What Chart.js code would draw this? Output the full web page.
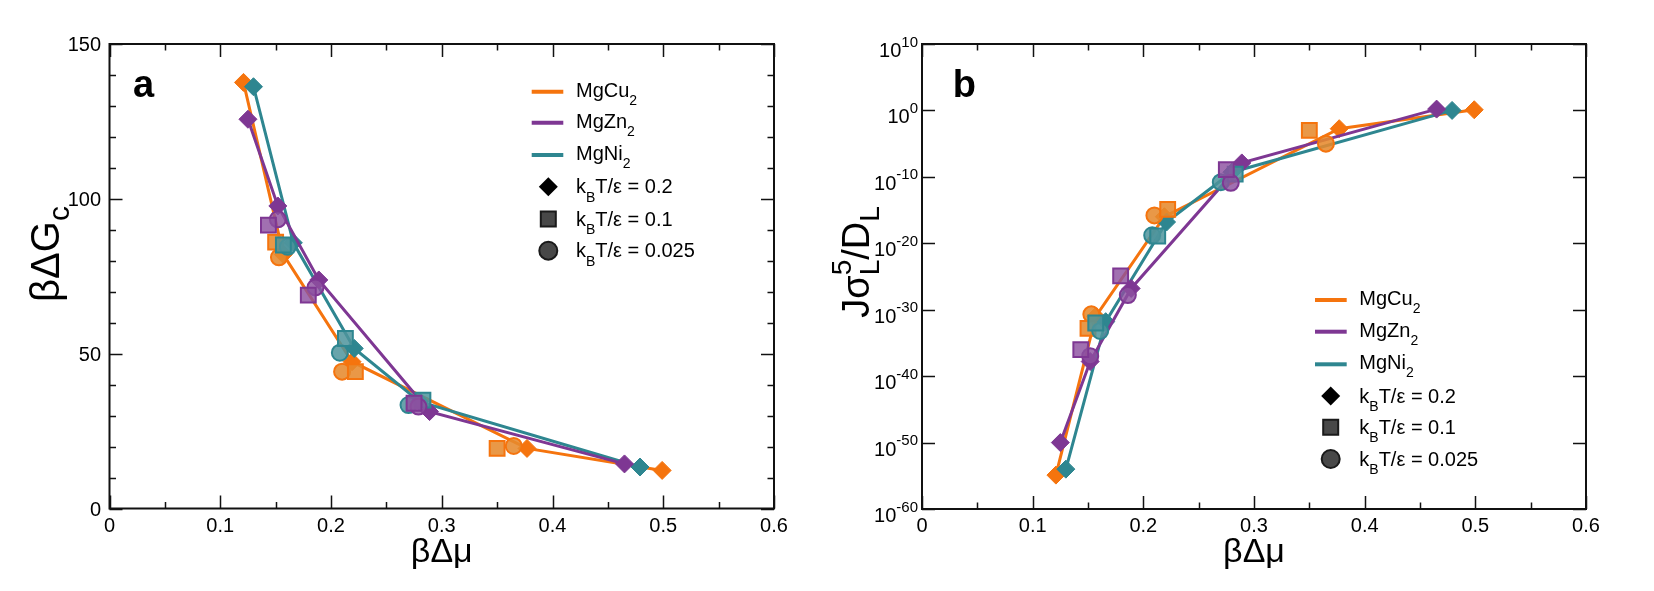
<!DOCTYPE html>
<html>
<head>
<meta charset="utf-8">
<script src="https://cdn.jsdelivr.net/npm/chart.js@4.4.1/dist/chart.umd.min.js"></script>
<style>
  html, body { margin: 0; padding: 0; background: #fff; }
  #wrap { position: relative; width: 1654px; height: 591px; }
  .panel { position: absolute; top: 0; width: 827px; height: 591px; }
</style>
</head>
<body>
<div id="wrap">
  <div class="panel" style="left:0"><canvas id="chartA" width="827" height="591"></canvas></div>
  <div class="panel" style="left:827px"><canvas id="chartB" width="827" height="591"></canvas></div>
</div>
<script>
// βΔμ (x) for each material and temperature, shared by both panels
const muCu20 = [0.121, 0.157, 0.219, 0.377, 0.499];
const muCu10 = [0.150, 0.222, 0.350];
const muCu025 = [0.153, 0.210, 0.365];
const muZn20 = [0.125, 0.152, 0.189, 0.289, 0.465];
const muZn10 = [0.1435, 0.1795, 0.275];
const muZn025 = [0.152, 0.186, 0.279];
const muNi20 = [0.130, 0.166, 0.221, 0.280, 0.479];
const muNi10 = [0.157, 0.213, 0.283];
const muNi025 = [0.161, 0.208, 0.270];

// panel a: βΔG_c
const gCu20 = [137.6, 82.0, 47.4, 19.4, 12.3];
const gCu10 = [86.0, 44.2, 19.4];
const gCu025 = [81.1, 44.2, 20.2];
const gZn20 = [125.7, 97.7, 73.8, 31.3, 14.4];
const gZn10 = [91.5, 68.9, 34.0];
const gZn025 = [93.4, 71.4, 32.9];
const gNi20 = [136.2, 85.8, 51.7, 34.5, 13.4];
const gNi10 = [85.1, 54.9, 35.0];
const gNi025 = [84.5, 50.3, 33.4];

// panel b: exponent of Jσ_L^5/D_L (log10)
const jCu20 = [-54.9, -31.0, -16.0, -2.75, 0.1];
const jCu10 = [-32.8, -14.9, -3.0];
const jCu025 = [-30.7, -15.8, -5.0];
const jZn20 = [-50.0, -37.8, -26.8, -7.9, 0.2];
const jZn10 = [-36.0, -24.9, -8.9];
const jZn025 = [-37.0, -27.8, -10.9];
const jNi20 = [-54.0, -31.8, -16.8, -9.3, 0.0];
const jNi10 = [-32.0, -18.9, -9.6];
const jNi025 = [-33.2, -18.8, -10.8];

// axes
const xTicks = [0, 0.1, 0.2, 0.3, 0.4, 0.5, 0.6];
const xTickLabels = ['0', '0.1', '0.2', '0.3', '0.4', '0.5', '0.6'];
const xMinorTicks = [0.05, 0.15, 0.25, 0.35, 0.45, 0.55];
const gTicks = [0, 50, 100, 150];
const gMinorTicks = [10, 20, 30, 40, 60, 70, 80, 90, 110, 120, 130, 140];
const jTickExps = [10, 0, -10, -20, -30, -40, -50, -60];

const matNames = ['MgCu', 'MgZn', 'MgNi'];
const tempLabels = ['0.2', '0.1', '0.025'];

const FONT = "'Liberation Sans', Arial, Helvetica, sans-serif";
const COL = { Cu: '#f5740e', Zn: '#7e3793', Ni: '#2e8690' };
const FILL = { Cu: 'rgba(230,138,45,0.88)', Zn: 'rgba(140,80,160,0.82)', Ni: 'rgba(78,148,156,0.85)' };

function pts(xs, ys, logY) {
  return xs.map((v, i) => ({ x: v, y: logY ? Math.pow(10, ys[i]) : ys[i] }));
}
function markerSet(xs, ys, logY, mat, style) {
  return {
    data: pts(xs, ys, logY), showLine: false, pointStyle: style,
    pointRadius: style === 'rect' ? 10.5 : 8, pointHoverRadius: 8,
    backgroundColor: FILL[mat], borderColor: COL[mat], borderWidth: 2,
  };
}
function lineSet(xs, ys, logY, mat) {
  return {
    data: pts(xs, ys, logY), showLine: true, borderColor: COL[mat], borderWidth: 3,
    pointStyle: 'rectRot', pointRadius: 9, backgroundColor: COL[mat],
    pointBorderColor: COL[mat], pointBorderWidth: 1, tension: 0, fill: false,
  };
}
function buildSets(s, logY) {
  // first dataset is drawn on top
  return [
    markerSet(muZn10, s.Zn10, logY, 'Zn', 'rect'),
    markerSet(muZn025, s.Zn025, logY, 'Zn', 'circle'),
    markerSet(muNi10, s.Ni10, logY, 'Ni', 'rect'),
    markerSet(muNi025, s.Ni025, logY, 'Ni', 'circle'),
    markerSet(muCu10, s.Cu10, logY, 'Cu', 'rect'),
    markerSet(muCu025, s.Cu025, logY, 'Cu', 'circle'),
    lineSet(muZn20, s.Zn20, logY, 'Zn'),
    lineSet(muNi20, s.Ni20, logY, 'Ni'),
    lineSet(muCu20, s.Cu20, logY, 'Cu'),
  ];
}

// text with sub/superscripts
function richWidth(ctx, parts, size, small) {
  let w = 0;
  for (const p of parts) {
    if (p.t !== undefined) { ctx.font = size + 'px ' + FONT; w += ctx.measureText(p.t).width; }
    else {
      ctx.font = small + 'px ' + FONT;
      w += Math.max(p.sub ? ctx.measureText(p.sub).width : 0, p.sup ? ctx.measureText(p.sup).width : 0);
    }
  }
  return w;
}
function drawRich(ctx, parts, x, y, o) {
  const size = o.size, small = o.small || size * 0.7;
  const w = richWidth(ctx, parts, size, small);
  let cx = o.align === 'center' ? x - w / 2 : o.align === 'right' ? x - w : x;
  ctx.textAlign = 'left';
  ctx.textBaseline = 'alphabetic';
  for (const p of parts) {
    if (p.t !== undefined) {
      ctx.font = size + 'px ' + FONT;
      ctx.fillText(p.t, cx, y);
      cx += ctx.measureText(p.t).width;
    } else {
      ctx.font = small + 'px ' + FONT;
      let pw = 0;
      if (p.sub) { ctx.fillText(p.sub, cx, y + (o.subDy || size * 0.4)); pw = ctx.measureText(p.sub).width; }
      if (p.sup) { ctx.fillText(p.sup, cx, y - (o.supDy || size * 0.45)); pw = Math.max(pw, ctx.measureText(p.sup).width); }
      cx += pw;
    }
  }
}

function drawMarker(ctx, style, x, y) {
  ctx.beginPath();
  if (style === 'diamond') {
    ctx.moveTo(x, y - 9.5); ctx.lineTo(x + 9.5, y); ctx.lineTo(x, y + 9.5); ctx.lineTo(x - 9.5, y);
    ctx.closePath();
    ctx.fillStyle = '#000';
    ctx.fill();
    return;
  }
  if (style === 'rect') ctx.rect(x - 7.5, y - 7.5, 15, 15);
  else ctx.arc(x, y, 9, 0, Math.PI * 2);
  ctx.fillStyle = '#484848';
  ctx.fill();
  ctx.lineWidth = 2;
  ctx.strokeStyle = '#1a1a1a';
  ctx.stroke();
}

function panelPlugin(cfg) {
  return {
    id: 'panelDecor',
    afterDraw(chart) {
      const ctx = chart.ctx, a = chart.chartArea;
      const sx = chart.scales.x, sy = chart.scales.y;
      ctx.save();
      ctx.strokeStyle = '#111';
      ctx.fillStyle = '#000';

      // frame
      ctx.lineWidth = 2;
      ctx.strokeRect(a.left, a.top, a.right - a.left, a.bottom - a.top);

      // ticks on all four sides, pointing in
      ctx.lineWidth = 1.5;
      const xTick = (v, len) => {
        const px = Math.round(sx.getPixelForValue(v)) + 0.5;
        ctx.beginPath();
        ctx.moveTo(px, a.bottom); ctx.lineTo(px, a.bottom - len);
        ctx.moveTo(px, a.top); ctx.lineTo(px, a.top + len);
        ctx.stroke();
      };
      const yTick = (v, len) => {
        const py = Math.round(sy.getPixelForValue(v)) + 0.5;
        ctx.beginPath();
        ctx.moveTo(a.left, py); ctx.lineTo(a.left + len, py);
        ctx.moveTo(a.right, py); ctx.lineTo(a.right - len, py);
        ctx.stroke();
      };
      xTicks.forEach(v => xTick(v, 13));
      xMinorTicks.forEach(v => xTick(v, 6.5));
      cfg.yMajor.forEach(v => yTick(v, 13));
      (cfg.yMinor || []).forEach(v => yTick(v, 6.5));

      // tick labels
      ctx.font = '20px ' + FONT;
      ctx.textAlign = 'center';
      ctx.textBaseline = 'alphabetic';
      xTicks.forEach((v, i) => ctx.fillText(xTickLabels[i], sx.getPixelForValue(v), 531.5));
      cfg.drawYLabels(ctx, sy);

      // axis titles
      drawRich(ctx, [{ t: 'βΔμ' }], (a.left + a.right) / 2, 562, { size: 34, align: 'center' });
      ctx.save();
      ctx.translate(cfg.yTitleX, cfg.yTitleY);
      ctx.rotate(-Math.PI / 2);
      drawRich(ctx, cfg.yTitle, 0, 0, cfg.yTitleOpt);
      ctx.restore();

      // panel letter
      ctx.font = 'bold 38px ' + FONT;
      ctx.textAlign = 'left';
      ctx.fillText(cfg.letter, cfg.letterX, 97);

      // legend
      const L = cfg.legend;
      const mats = ['Cu', 'Zn', 'Ni'];
      ctx.lineWidth = 4;
      mats.forEach((m, i) => {
        const y = L.ys[i];
        ctx.strokeStyle = COL[m];
        ctx.beginPath(); ctx.moveTo(L.lineX0, y); ctx.lineTo(L.lineX1, y); ctx.stroke();
        ctx.fillStyle = '#000';
        drawRich(ctx, [{ t: matNames[i] }, { sub: '2' }], L.textX, y + 5, { size: 20, small: 14, subDy: 8 });
      });
      ['diamond', 'rect', 'circle'].forEach((st, i) => {
        const y = L.ys[3 + i];
        drawMarker(ctx, st, L.markX, y);
        ctx.fillStyle = '#000';
        drawRich(ctx, [{ t: 'k' }, { sub: 'B' }, { t: 'T/ε = ' + tempLabels[i] }], L.textX, y + 6.5,
          { size: 20, small: 14, subDy: 8.5 });
      });
      ctx.restore();
    }
  };
}

function baseOptions(padRight, yAxisWidth, xAxisHeight, yScale) {
  return {
    responsive: false,
    animation: false,
    devicePixelRatio: 1,
    layout: { padding: { left: 0, right: padRight, top: 44, bottom: 0 } },
    plugins: { legend: { display: false }, tooltip: { enabled: false } },
    scales: {
      x: {
        type: 'linear', min: 0, max: 0.6,
        grid: { display: false }, border: { display: false }, ticks: { display: false },
        afterFit: (s) => { s.height = xAxisHeight; },
      },
      y: Object.assign({
        grid: { display: false }, border: { display: false }, ticks: { display: false },
        afterFit: (s) => { s.width = yAxisWidth; },
      }, yScale),
    },
  };
}

// Panel a
new Chart(document.getElementById('chartA'), {
  type: 'scatter',
  data: {
    datasets: buildSets({
      Cu20: gCu20, Cu10: gCu10, Cu025: gCu025,
      Zn20: gZn20, Zn10: gZn10, Zn025: gZn025,
      Ni20: gNi20, Ni10: gNi10, Ni025: gNi025,
    }, false),
  },
  options: baseOptions(53, 109.5, 82.5, { type: 'linear', min: 0, max: 150 }),
  plugins: [panelPlugin({
    yMajor: gTicks,
    yMinor: gMinorTicks,
    drawYLabels: (ctx, sy) => {
      ctx.textAlign = 'right';
      gTicks.forEach(v => ctx.fillText(String(v), 101, sy.getPixelForValue(v) + 7));
    },
    yTitle: [{ t: 'βΔG' }, { sub: 'c' }],
    yTitleOpt: { size: 40, small: 30, subDy: 10, align: 'center' },
    yTitleX: 59, yTitleY: 254,
    letter: 'a', letterX: 133,
    legend: { lineX0: 531.7, lineX1: 563.3, textX: 576, markX: 548.3,
      ys: [91.7, 122.7, 155, 186.7, 219, 250.7] },
  })],
});

// Panel b
new Chart(document.getElementById('chartB'), {
  type: 'scatter',
  data: {
    datasets: buildSets({
      Cu20: jCu20, Cu10: jCu10, Cu025: jCu025,
      Zn20: jZn20, Zn10: jZn10, Zn025: jZn025,
      Ni20: jNi20, Ni10: jNi10, Ni025: jNi025,
    }, true),
  },
  options: baseOptions(68, 95, 82, { type: 'logarithmic', min: 1e-60, max: 1e10 }),
  plugins: [panelPlugin({
    yMajor: jTickExps.map(e => Math.pow(10, e)),
    drawYLabels: (ctx, sy) => {
      jTickExps.forEach(e => {
        const py = sy.getPixelForValue(Math.pow(10, e));
        drawRich(ctx, [{ t: '10' }, { sup: String(e) }], 91, py + 13,
          { size: 20, small: 15, supDy: 10.5, align: 'right' });
      });
    },
    yTitle: [{ t: 'Jσ' }, { sub: 'L', sup: '5' }, { t: '/D' }, { sub: 'L' }],
    yTitleOpt: { size: 38, small: 28, subDy: 10, supDy: 18, align: 'center' },
    yTitleX: 42, yTitleY: 262,
    letter: 'b', letterX: 125.7,
    legend: { lineX0: 488, lineX1: 519.7, textX: 532.3, markX: 503.7,
      ys: [300, 331.7, 364.3, 396, 427.3, 459] },
  })],
});
</script>
</body>
</html>
